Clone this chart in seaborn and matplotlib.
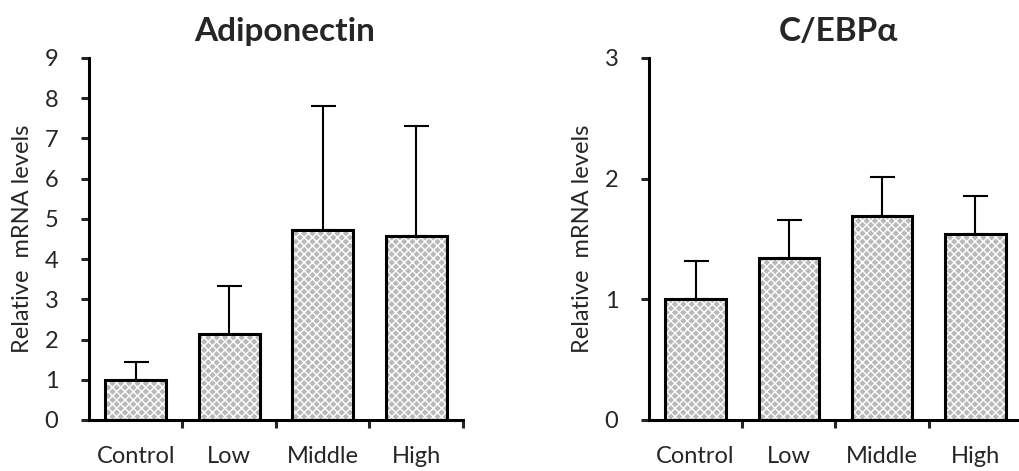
import matplotlib
matplotlib.use("Agg")
import matplotlib.pyplot as plt
import seaborn as sns
import pandas as pd

groups = ["Control", "Low", "Middle", "High"]

adipo_mean = [1.0, 2.15, 4.72, 4.57]
adipo_sd = [0.43, 1.17, 3.08, 2.73]

cebpa_mean = [1.0, 1.34, 1.69, 1.54]
cebpa_sd = [0.32, 0.32, 0.32, 0.32]

sns.set_theme(style="ticks")
plt.rcParams["font.family"] = ["Lato", "DejaVu Sans"]
plt.rcParams["hatch.linewidth"] = 1.0

fig = plt.figure(figsize=(10.2, 4.71), dpi=100)
ax1 = fig.add_axes([89 / 1020, 51 / 471, 374 / 1020, 362 / 471])
ax2 = fig.add_axes([649 / 1020, 51 / 471, 373 / 1020, 362 / 471])


def panel(ax, means, sds, title, ymax, yticks, title_x):
    df = pd.DataFrame({"group": groups, "value": means})
    # patterned fill
    sns.barplot(data=df, x="group", y="value", ax=ax, color="#b9b9b9",
                width=0.65, edgecolor="white", linewidth=0, saturation=1)
    for p in ax.patches:
        p.set_hatch("xxxx")
    # black outline on top
    sns.barplot(data=df, x="group", y="value", ax=ax, fill=False,
                width=0.65, edgecolor="black", linewidth=2.2)
    ax.errorbar(range(len(groups)), means, yerr=[[0] * len(sds), sds],
                fmt="none", ecolor="black", elinewidth=1.5, capsize=9,
                capthick=1.5, zorder=1)
    ax.set_xlim(-0.5, 3.5)
    ax.set_ylim(0, ymax)
    ax.set_yticks(yticks)
    ax.set_xticks([0.5, 1.5, 2.5, 3.5])
    ax.set_xticklabels([])
    ax.set_xticks(range(len(groups)), minor=True)
    ax.set_xticklabels(groups, minor=True)
    ax.tick_params(axis="x", which="minor", length=0, labelsize=17, pad=19)
    ax.tick_params(axis="x", which="major", length=6, width=2.2, direction="out")
    ax.tick_params(axis="y", length=6, width=2.2, direction="out", labelsize=17, pad=16)
    for s in ["left", "bottom"]:
        ax.spines[s].set_linewidth(2.2)
        ax.spines[s].set_color("black")
    sns.despine(ax=ax)
    ax.set_xlabel("")
    ax.set_ylabel("Relative  mRNA levels", fontsize=17, labelpad=8)
    ax.set_title(title, fontsize=24, fontweight="bold", pad=12, x=title_x)


panel(ax1, adipo_mean, adipo_sd, "Adiponectin", 9, range(0, 10), 0.524)
panel(ax2, cebpa_mean, cebpa_sd, "C/EBPα", 3, range(0, 4), 0.507)

fig.savefig("out.png", dpi=100)
